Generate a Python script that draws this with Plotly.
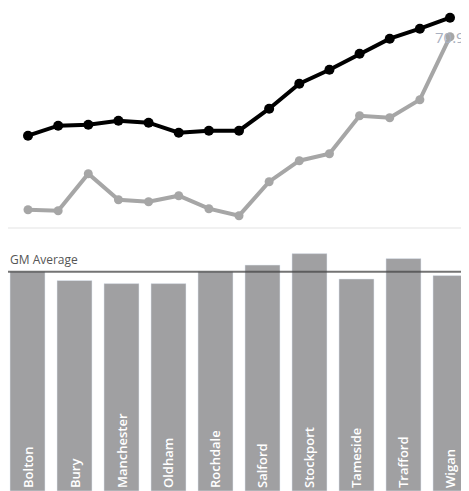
import plotly.graph_objects as go

# top chart: two trend series (15 periods)
periods = list(range(15))
area_trend = [61.0, 62.0, 62.1, 62.5, 62.3, 61.3, 61.5, 61.5, 63.7, 66.2, 67.6, 69.2, 70.7, 71.7, 72.8]
gm_trend = [53.6, 53.5, 57.2, 54.6, 54.4, 55.0, 53.7, 53.0, 56.4, 58.5, 59.2, 63.0, 62.8, 64.6, 70.9]

# bottom chart: districts
districts = ['Bolton', 'Bury', 'Manchester', 'Oldham', 'Rochdale',
             'Salford', 'Stockport', 'Tameside', 'Trafford', 'Wigan']
district_vals = [70.9, 68.1, 67.1, 67.1, 70.9, 73.1, 76.8, 68.6, 75.2, 69.7]
gm_average = 70.9

# page body has an 8px margin, so the figure is sized to the visible area
W, H = 461, 483

fig = go.Figure()

fig.add_trace(go.Scatter(x=periods, y=gm_trend, mode='lines+markers',
                         line=dict(color='#a6a6a6', width=4),
                         marker=dict(color='#a6a6a6', size=9),
                         xaxis='x', yaxis='y', hoverinfo='skip'))
fig.add_trace(go.Scatter(x=periods, y=area_trend, mode='lines+markers',
                         line=dict(color='#000000', width=4),
                         marker=dict(color='#000000', size=10),
                         xaxis='x', yaxis='y', hoverinfo='skip'))

fig.add_trace(go.Bar(x=districts, y=district_vals, marker_color='#a0a0a2',
                     text=districts, textposition='inside', insidetextanchor='start',
                     textangle=-90,
                     textfont=dict(color='white', size=13, family='Open Sans', weight=600),
                     xaxis='x2', yaxis='y2', hoverinfo='skip'))

# bottom edge of the top chart's frame
fig.add_shape(type='line', xref='paper', yref='paper',
              x0=0, x1=1, y0=1 - 220 / H, y1=1 - 220 / H,
              line=dict(color='#ececec', width=1.5), layer='below')

# GM average reference line
fig.add_shape(type='line', xref='paper', yref='y2', x0=0, x1=1,
              y0=gm_average, y1=gm_average,
              line=dict(color='rgba(70,70,70,0.75)', width=2))

fig.add_annotation(xref='paper', yref='y2', x=0, y=gm_average, yshift=12,
                   text='GM Average', showarrow=False, xanchor='left', yanchor='middle',
                   font=dict(family='Open Sans', size=12, color='#555555'))

fig.add_annotation(x=periods[-1], y=gm_trend[-1], xref='x', yref='y',
                   text=f'{gm_trend[-1]}', showarrow=False, xanchor='left', xshift=-17,
                   font=dict(family='Open Sans', size=15, color='#a8b0c0'))

fig.update_layout(
    width=W, height=H,
    margin=dict(l=0, r=0, t=0, b=0),
    paper_bgcolor='white', plot_bgcolor='white',
    showlegend=False,
    bargap=0.255,
    xaxis=dict(domain=[0, 1], range=[-0.664, 14.63], visible=False, anchor='y'),
    yaxis=dict(domain=[1 - 220 / H, 1], range=[51.77, 73.77], visible=False, anchor='x'),
    xaxis2=dict(domain=[0, 1], range=[-0.415, 9.394], visible=False, anchor='y2'),
    yaxis2=dict(domain=[0, 251 / H], range=[0, 81.2], visible=False, anchor='x2'),
)

fig.write_html("out.html")
